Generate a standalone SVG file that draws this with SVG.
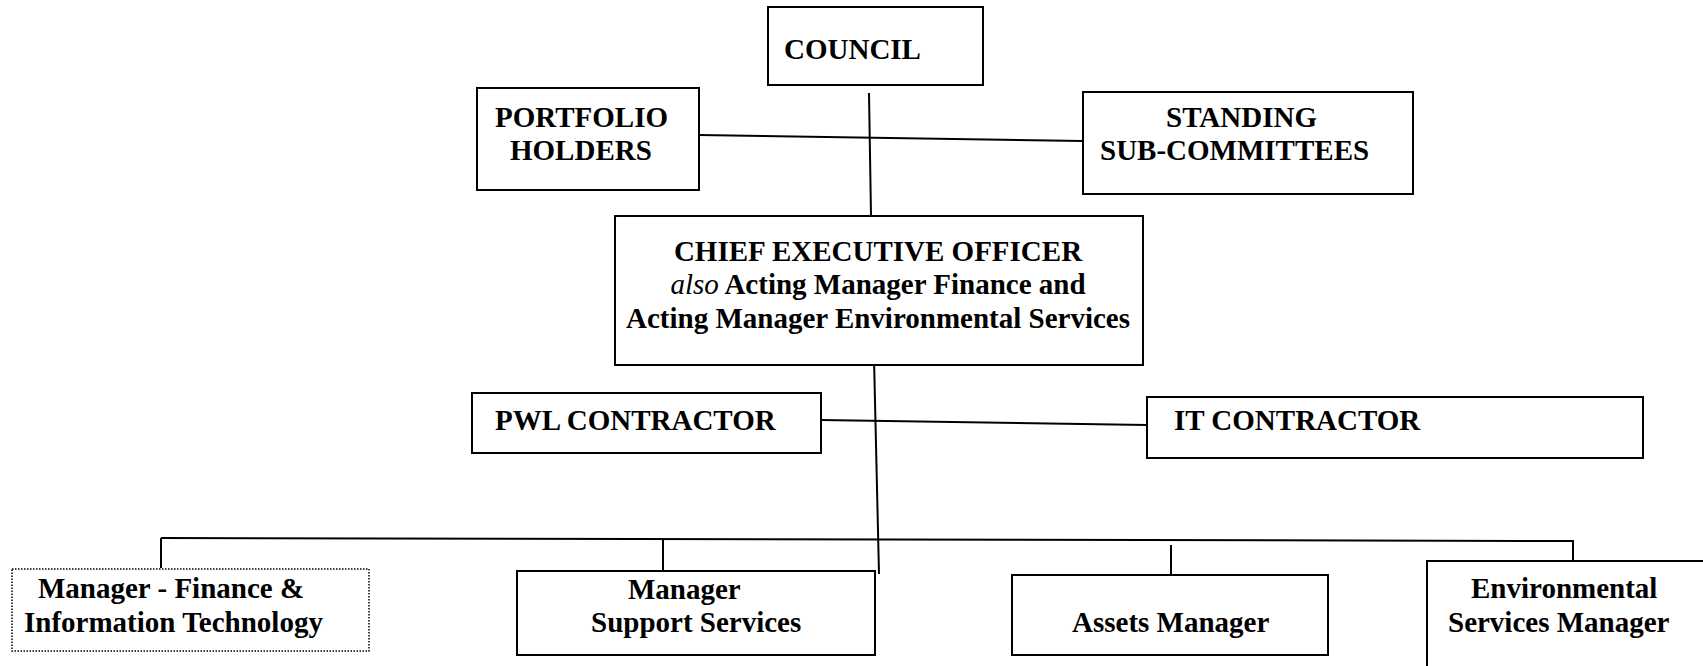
<svg xmlns="http://www.w3.org/2000/svg" width="1703" height="666" viewBox="0 0 1703 666">
  <style>
    .box { fill: #ffffff; stroke: #000000; stroke-width: 2; }
    .dotted { fill: #ffffff; stroke: #000000; stroke-width: 1.5; stroke-dasharray: 1.5 1.5; }
    .lbl { font-family: "Liberation Serif", "Times New Roman", serif; font-size: 29px; font-weight: bold; fill: #000000; }
    .mid { text-anchor: middle; }
    .conn { stroke: #000000; stroke-width: 2; fill: none; }
  </style>
  <rect width="1703" height="666" fill="#ffffff"/>

  <!-- connectors -->
  <g id="connectors">
    <line class="conn" x1="699" y1="135" x2="1083" y2="141"/>
    <line class="conn" x1="869" y1="93" x2="871" y2="216"/>
    <line class="conn" x1="821" y1="420" x2="1147" y2="425"/>
    <line class="conn" x1="874" y1="358" x2="879" y2="574"/>
    <line class="conn" x1="161" y1="538" x2="1573" y2="541"/>
    <line class="conn" x1="161" y1="538" x2="161" y2="568"/>
    <line class="conn" x1="663" y1="539" x2="663" y2="571"/>
    <line class="conn" x1="1171" y1="545" x2="1171" y2="575"/>
    <line class="conn" x1="1573" y1="540" x2="1573" y2="561"/>
  </g>

  <g id="council">
    <rect class="box" x="768" y="7" width="215" height="78"/>
    <text class="lbl" x="784" y="59">COUNCIL</text>
  </g>

  <g id="portfolio-holders">
    <rect class="box" x="477" y="88" width="222" height="102"/>
    <text class="lbl" x="495" y="127">PORTFOLIO</text>
    <text class="lbl" x="510" y="160">HOLDERS</text>
  </g>

  <g id="standing-sub-committees">
    <rect class="box" x="1083" y="92" width="330" height="102"/>
    <text class="lbl" x="1166" y="127">STANDING</text>
    <text class="lbl" x="1100" y="160">SUB-COMMITTEES</text>
  </g>

  <g id="ceo">
    <rect class="box" x="615" y="216" width="528" height="149"/>
    <text class="lbl mid" x="878" y="261">CHIEF EXECUTIVE OFFICER</text>
    <text class="lbl mid" x="878" y="294"><tspan font-style="italic" font-weight="normal">also</tspan> Acting Manager Finance and</text>
    <text class="lbl mid" x="878" y="328">Acting Manager Environmental Services</text>
  </g>

  <g id="pwl-contractor">
    <rect class="box" x="472" y="393" width="349" height="60"/>
    <text class="lbl" x="495" y="430">PWL CONTRACTOR</text>
  </g>

  <g id="it-contractor">
    <rect class="box" x="1147" y="397" width="496" height="61"/>
    <text class="lbl" x="1174" y="430">IT CONTRACTOR</text>
  </g>

  <g id="manager-finance-it">
    <rect class="dotted" x="12" y="569" width="357" height="82"/>
    <text class="lbl" x="38" y="598">Manager - Finance &amp;</text>
    <text class="lbl" x="24" y="632">Information Technology</text>
  </g>

  <g id="manager-support-services">
    <rect class="box" x="517" y="571" width="358" height="84"/>
    <text class="lbl" x="628" y="599">Manager</text>
    <text class="lbl" x="591" y="632">Support Services</text>
  </g>

  <g id="assets-manager">
    <rect class="box" x="1012" y="575" width="316" height="80"/>
    <text class="lbl" x="1072" y="632">Assets Manager</text>
  </g>

  <g id="environmental-services-manager">
    <rect class="box" x="1427" y="561" width="300" height="130"/>
    <text class="lbl" x="1471" y="598">Environmental</text>
    <text class="lbl" x="1448" y="632">Services Manager</text>
  </g>
</svg>
